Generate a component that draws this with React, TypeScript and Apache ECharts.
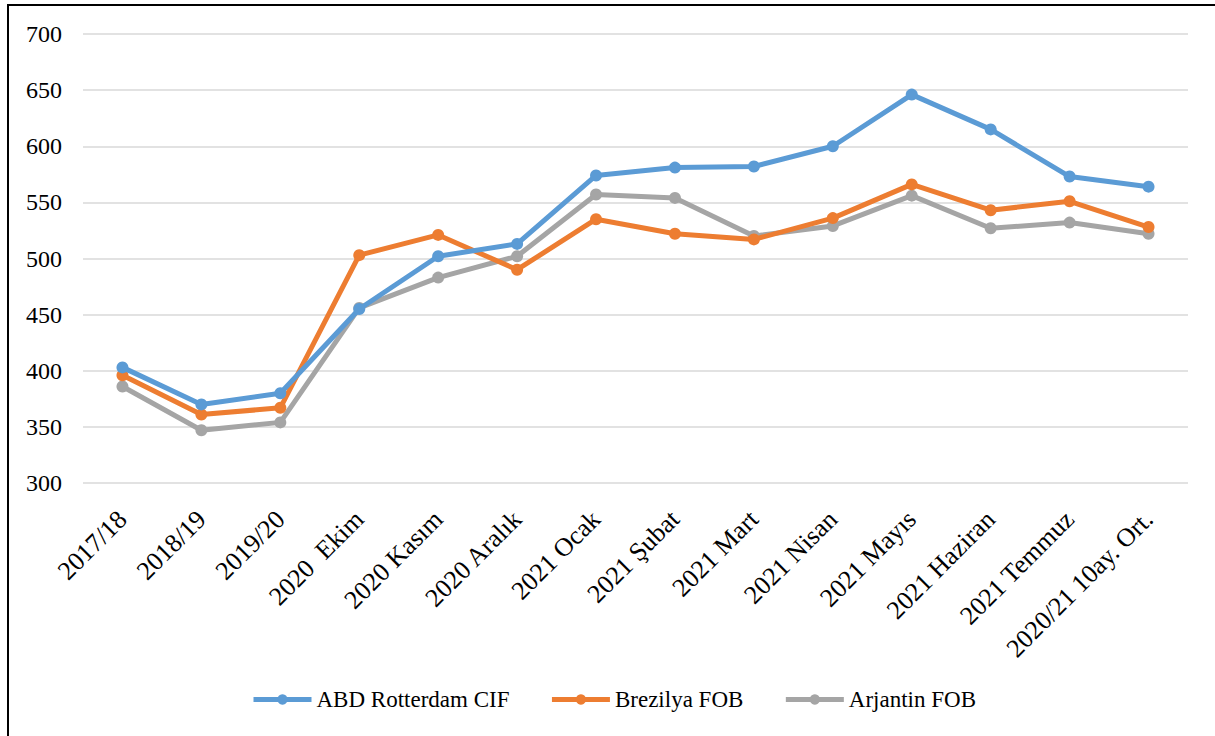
import React, { useEffect, useRef } from "react";
import * as echarts from "echarts";

const categories = [
  "2017/18", "2018/19", "2019/20", "2020  Ekim", "2020 Kasım", "2020 Aralık",
  "2021 Ocak", "2021 Şubat", "2021 Mart", "2021 Nisan", "2021 Mayıs",
  "2021 Haziran", "2021 Temmuz", "2020/21 10ay. Ort.",
];
const abdRotterdam = [403, 370, 380, 455, 502, 513, 574, 581, 582, 600, 646, 615, 573, 564];
const brezilya = [396, 361, 367, 503, 521, 490, 535, 522, 517, 536, 566, 543, 551, 528];
const arjantin = [386, 347, 354, 456, 483, 502, 557, 554, 520, 529, 556, 527, 532, 522];
const seriesNames = ["ABD Rotterdam CIF", "Brezilya FOB", "Arjantin FOB"];
const colors = ["#5B9BD5", "#ED7D31", "#A5A5A5"];

const FONT = "Times New Roman";

export default function App() {
  const ref = useRef<HTMLDivElement>(null);
  useEffect(() => {
    if (!ref.current) return;
    const chart = echarts.init(ref.current, undefined, { renderer: "svg" });
    const data = [abdRotterdam, brezilya, arjantin];
    chart.setOption({
      animation: false,
      backgroundColor: "#fff",
      textStyle: { fontFamily: FONT },
      graphic: [
        {
          type: "rect",
          shape: { x: 8, y: 5, width: 1400, height: 900 },
          style: { fill: "none", stroke: "#000", lineWidth: 2 },
          silent: true,
        },
      ],
      grid: { left: 83, right: 27, top: 34, bottom: 253 },
      legend: {
        bottom: 20,
        left: 246,
        itemWidth: 58,
        itemHeight: 13,
        itemGap: 40,
        lineStyle: { width: 5 },
        textStyle: { fontFamily: FONT, fontSize: 23, fontWeight: "normal", color: "#000" },
        data: seriesNames,
      },
      xAxis: {
        type: "category",
        data: categories,
        boundaryGap: true,
        axisLine: { show: false },
        axisTick: { show: false },
        axisLabel: {
          rotate: 45,
          interval: 0,
          fontFamily: FONT,
          fontSize: 26,
          fontWeight: "normal",
          color: "#000",
          margin: 32,
        },
      },
      yAxis: {
        type: "value",
        min: 300,
        max: 700,
        interval: 50,
        axisLine: { show: false },
        axisTick: { show: false },
        axisLabel: { fontFamily: FONT, fontSize: 24, fontWeight: "normal", color: "#000", margin: 21 },
        splitLine: { lineStyle: { color: "#D9D9D9", width: 1.5 } },
      },
      series: seriesNames.map((name, i) => ({
        name,
        type: "line",
        data: data[i],
        symbol: "circle",
        symbolSize: 12,
        lineStyle: { width: 5, color: colors[i] },
        itemStyle: { color: colors[i] },
        z: 3 - i,
      })),
    });
    return () => chart.dispose();
  }, []);
  return (
    <div
      ref={ref}
      style={{ position: "fixed", left: 0, top: 0, width: 1215, height: 736 }}
    />
  );
}
